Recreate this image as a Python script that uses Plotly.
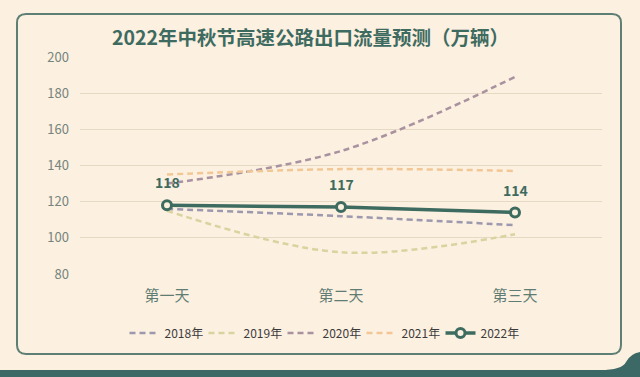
import plotly.graph_objects as go

categories = ["第一天", "第二天", "第三天"]
s2018 = [116, 112, 107]
s2019 = [115, 92, 102]
s2020 = [130, 148, 189]
s2021 = [135, 138, 137]
s2022 = [118, 117, 114]
y_ticks = [80, 100, 120, 140, 160, 180, 200]

W, H = 640, 377
L, R, T, B = 80, 602, 57, 274

def px(x):
    return (x - L) / (R - L)

def py(y):
    return (B - y) / (B - T)

BG = "#fcf0e1"
GREEN = "#3e6b5f"

fig = go.Figure()

dash_series = [
    ("2018年", s2018, "#9c99ae"),
    ("2019年", s2019, "#d9d3a0"),
    ("2020年", s2020, "#a8929f"),
    ("2021年", s2021, "#f2c796"),
]
for name, vals, col in dash_series:
    fig.add_trace(go.Scatter(
        x=categories, y=vals, name=name, mode="lines",
        line=dict(color=col, width=2.5, dash="6px,4px", shape="spline", smoothing=1.0),
        hoverinfo="skip",
    ))

fig.add_trace(go.Scatter(
    x=categories, y=s2022, name="2022年", mode="lines+markers",
    line=dict(color=GREEN, width=3.5),
    marker=dict(symbol="circle", size=9, color=BG, line=dict(color=GREEN, width=3)),
))

annotations = [
    dict(text="<b>2022年中秋节高速公路出口流量预测（万辆）</b>", x=px(310), y=py(37),
         xref="paper", yref="paper", showarrow=False, xanchor="center", yanchor="middle",
         font=dict(size=19.5, color=GREEN, family="Noto Sans CJK SC")),
]
for c, v in zip(categories, s2022):
    annotations.append(dict(text=f"<b>{v}</b>", x=c, y=v, xref="x", yref="y", showarrow=False,
                            yshift=23, font=dict(size=14, color=GREEN, family="Noto Sans CJK SC")))

# rounded frame
x0, y0, x1, y1, r = 17, 14, 621, 354, 9
def P(x, y):
    return f"{px(x):.5f},{py(y):.5f}"
frame = (f"M {P(x0 + r, y0)} L {P(x1 - r, y0)} Q {P(x1, y0)} {P(x1, y0 + r)} "
         f"L {P(x1, y1 - r)} Q {P(x1, y1)} {P(x1 - r, y1)} L {P(x0 + r, y1)} "
         f"Q {P(x0, y1)} {P(x0, y1 - r)} L {P(x0, y0 + r)} Q {P(x0, y0)} {P(x0 + r, y0)} Z")
band = (f"M {P(0, 370)} L {P(600, 370)} Q {P(622, 370)} {P(626, 362)} "
        f"Q {P(630, 354)} {P(640, 352)} L {P(640, 377)} L {P(0, 377)} Z")

fig.update_layout(
    width=W, height=H,
    margin=dict(l=L, r=W - R, t=T, b=H - B, pad=0),
    paper_bgcolor=BG, plot_bgcolor=BG,
    font=dict(family="Noto Sans CJK SC", color="#6f7f77"),
    showlegend=True,
    legend=dict(orientation="h", x=px(322), xanchor="center", y=py(333), yanchor="middle",
                font=dict(size=12, color="#3c3c3c"), bgcolor="rgba(0,0,0,0)",
                entrywidth=34, entrywidthmode="pixels", tracegroupgap=0),
    xaxis=dict(type="category", range=[-0.5, 2.5], showgrid=False, zeroline=False,
               showline=False, ticks="", ticklabelstandoff=11,
               tickfont=dict(size=15, color="#5f7d72")),
    yaxis=dict(range=[80, 200], tickvals=y_ticks, showgrid=True, gridcolor="#e6d9c4",
               gridwidth=1.3, zeroline=False, showline=False, ticks="",
               ticklabelstandoff=10, tickfont=dict(size=13, color="#76847c")),
    shapes=[
        dict(type="path", path=frame, xref="paper", yref="paper",
             line=dict(color="#5e7f73", width=2), fillcolor="rgba(0,0,0,0)", layer="below"),
        dict(type="path", path=band, xref="paper", yref="paper",
             line=dict(width=0), fillcolor="#3c6866", layer="above"),
    ],
    annotations=annotations,
)

fig.write_html("out.html", config={"displayModeBar": False},
               post_script="document.body.style.margin='0';document.body.style.overflow='hidden';")
